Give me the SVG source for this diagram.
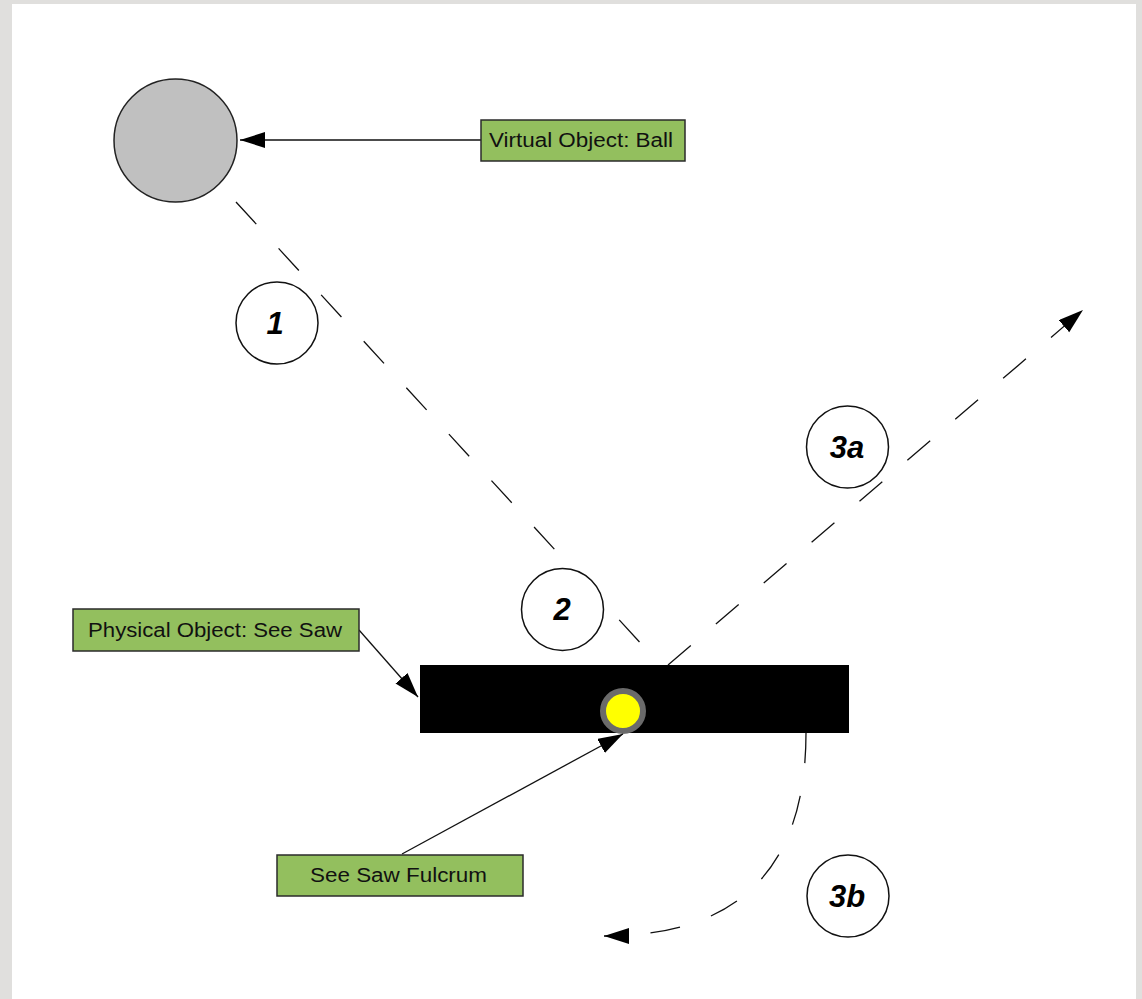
<svg xmlns="http://www.w3.org/2000/svg" width="1142" height="999" viewBox="0 0 1142 999">
<style>
.lbl rect{fill:#93bf5e;stroke:#2b2b2b;stroke-width:1.5}
.lbl text{font-family:"Liberation Sans",Arial,sans-serif;font-size:20px;fill:#111}
.num circle{fill:#fff;stroke:#111;stroke-width:1.5}
.num text{font-family:"Liberation Sans",Arial,sans-serif;font-size:31px;font-weight:bold;font-style:italic;text-anchor:middle;fill:#000}
.solid{stroke:#111;stroke-width:1.3;fill:none}
.dash{stroke:#111;stroke-width:1.3;fill:none;stroke-dasharray:30 33}
</style>
<defs>
<marker id="ah" markerUnits="userSpaceOnUse" markerWidth="26" markerHeight="18" refX="25" refY="8" orient="auto">
<path d="M0,0 L25,8 L0,16 Z" fill="#000"/>
</marker>
</defs>
<rect x="0" y="0" width="1142" height="999" fill="#e0dfdd"/>
<rect x="12" y="4" width="1124" height="995" fill="#fff"/>

<g id="ball"><circle cx="175.5" cy="140.5" r="61.5" fill="#c0c0c0" stroke="#222" stroke-width="1.5"/></g>
<g id="seesaw"><rect x="420" y="665" width="429" height="68" fill="#000"/></g>
<g id="fulcrum"><circle cx="623" cy="711" r="20" fill="#ffff00" stroke="#6a6a6a" stroke-width="6"/></g>

<g id="connectors">
<line class="solid" x1="481" y1="140" x2="240" y2="140" marker-end="url(#ah)"/>
<line class="solid" x1="359" y1="630" x2="418" y2="697" marker-end="url(#ah)"/>
<line class="solid" x1="402" y1="854" x2="623" y2="734" marker-end="url(#ah)"/>
<line class="dash" x1="236" y1="202" x2="656" y2="660"/>
<line class="dash" x1="668" y1="665" x2="1083" y2="310" marker-end="url(#ah)"/>
<path class="dash" d="M806,733 Q806,936 604,936" marker-end="url(#ah)"/>
</g>

<g id="label-ball" class="lbl"><rect x="481" y="120" width="204" height="41"/><text x="489" y="147" textLength="184" lengthAdjust="spacingAndGlyphs">Virtual Object: Ball</text></g>
<g id="label-seesaw" class="lbl"><rect x="73" y="609" width="286" height="42"/><text x="88" y="637" textLength="254" lengthAdjust="spacingAndGlyphs">Physical Object: See Saw</text></g>
<g id="label-fulcrum" class="lbl"><rect x="277" y="855" width="246" height="41"/><text x="310" y="882" textLength="177" lengthAdjust="spacingAndGlyphs">See Saw Fulcrum</text></g>

<g id="step1" class="num"><circle cx="277" cy="323" r="41"/><text x="275" y="334">1</text></g>
<g id="step2" class="num"><circle cx="562.5" cy="609.5" r="41"/><text x="562" y="620">2</text></g>
<g id="step3a" class="num"><circle cx="847.5" cy="447" r="41"/><text x="847" y="458">3a</text></g>
<g id="step3b" class="num"><circle cx="848" cy="896" r="41"/><text x="847" y="907">3b</text></g>
</svg>
